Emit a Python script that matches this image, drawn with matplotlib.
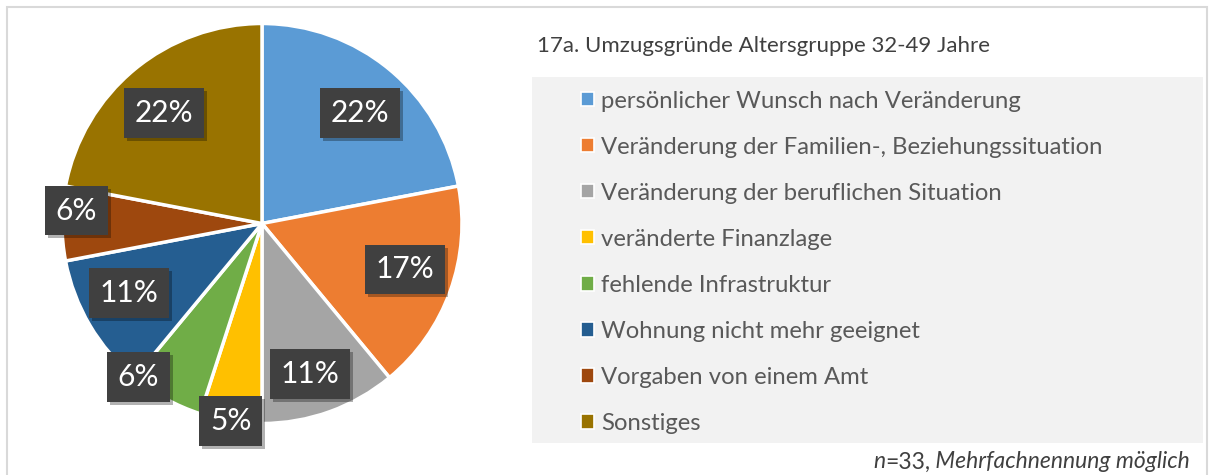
import matplotlib
matplotlib.use("Agg")
import matplotlib.pyplot as plt
from matplotlib.patches import Rectangle, Patch
from matplotlib.text import Annotation
from matplotlib import transforms
import numpy as np

categories = [
    "persönlicher Wunsch nach Veränderung",
    "Veränderung der Familien-, Beziehungssituation",
    "Veränderung der beruflichen Situation",
    "veränderte Finanzlage",
    "fehlende Infrastruktur",
    "Wohnung nicht mehr geeignet",
    "Vorgaben von einem Amt",
    "Sonstiges",
]
values = [22, 17, 11, 5, 6, 11, 6, 22]
colors = ["#5B9BD5", "#ED7D31", "#A5A5A5", "#FFC000", "#70AD47", "#255E91", "#9E480E", "#997300"]
title = "17a. Umzugsgründe Altersgruppe 32-49 Jahre"
note_n = "n"
note_mid = "=33,"
note_rest = " Mehrfachnennung möglich"

# label placement styles (radius fraction, angle offset in degrees)
label_r = [0.74, 0.75, 0.79, 1.0, 0.985, 0.75, 0.93, 0.74]
label_dang = [-2, 2, -2, 0, -10, -3, -4, 2]

W, H = 1215, 475
plt.rcParams['font.family'] = ['Lato', 'DejaVu Sans']
fig = plt.figure(figsize=(W / 100, H / 100), dpi=100)
fig.patch.set_facecolor("white")

# outer border
fig.patches.append(Rectangle((7 / W, -0.05), (1207 - 7) / W, 1 - 7 / H + 0.05,
                             transform=fig.transFigure, facecolor="none",
                             edgecolor="#D9D9D9", linewidth=1.5, zorder=0))
# legend background
fig.patches.append(Rectangle((532 / W, (H - 443) / H), (1203 - 532) / W, (443 - 77) / H,
                             transform=fig.transFigure, facecolor="#F2F2F2",
                             edgecolor="none", zorder=0))

cx, cy, r = 262, 223.5, 200
ax = fig.add_axes([(cx - r) / W, (H - cy - r) / H, 2 * r / W, 2 * r / H])
wedges, _ = ax.pie(values, colors=colors, startangle=90, counterclock=False,
                   wedgeprops=dict(edgecolor="white", linewidth=2.5))
ax.set_xlim(-1, 1)
ax.set_ylim(-1, 1)
ax.set_aspect("equal")
ax.axis("off")

for w, v, rr, da in zip(wedges, values, label_r, label_dang):
    mid = np.deg2rad((w.theta1 + w.theta2) / 2 + da)
    x, y = rr * np.cos(mid), rr * np.sin(mid)
    sh = transforms.offset_copy(ax.transData, fig=fig, x=3, y=-3, units="dots")
    ax.text(x, y, f"{v}%", transform=sh, ha="center", va="center", fontsize=21.5,
            color="none", zorder=4, clip_on=False,
            bbox=dict(boxstyle="square,pad=0.36", facecolor="black", alpha=0.3, edgecolor="none"))
    ax.text(x, y, f"{v}%", ha="center", va="center", fontsize=21.5, color="white",
            zorder=5, clip_on=False,
            bbox=dict(boxstyle="square,pad=0.36", facecolor="#404040", edgecolor="none"))

fig.text(537 / W, 1 - 46 / H, title, ha="left", va="center", fontsize=16,
         fontweight="normal", color="#404040")

handles = [Patch(facecolor=c, edgecolor="white", linewidth=1.2) for c in colors]
leg = fig.legend(handles, categories, loc="upper left",
                 bbox_to_anchor=(581 / W, 1 - 90.5 / H), frameon=False,
                 fontsize=17.2, labelcolor="#595959", handlelength=0.55, handleheight=0.55,
                 handletextpad=0.3, labelspacing=1.05, borderpad=0, borderaxespad=0)

t3 = fig.text(1190 / W, 1 - 462 / H, note_rest, ha="right", va="center",
              fontsize=16.5, style="italic", color="#404040")
ann2 = Annotation(note_mid, xy=(0, 0.5), xycoords=t3, ha="right", va="center",
                  fontsize=16.5, color="#404040")
fig.add_artist(ann2)
ann1 = Annotation(note_n, xy=(0, 0.5), xycoords=ann2, ha="right", va="center",
                  fontsize=16.5, style="italic", color="#404040")
fig.add_artist(ann1)

fig.savefig("out.png", dpi=100, facecolor="white")
